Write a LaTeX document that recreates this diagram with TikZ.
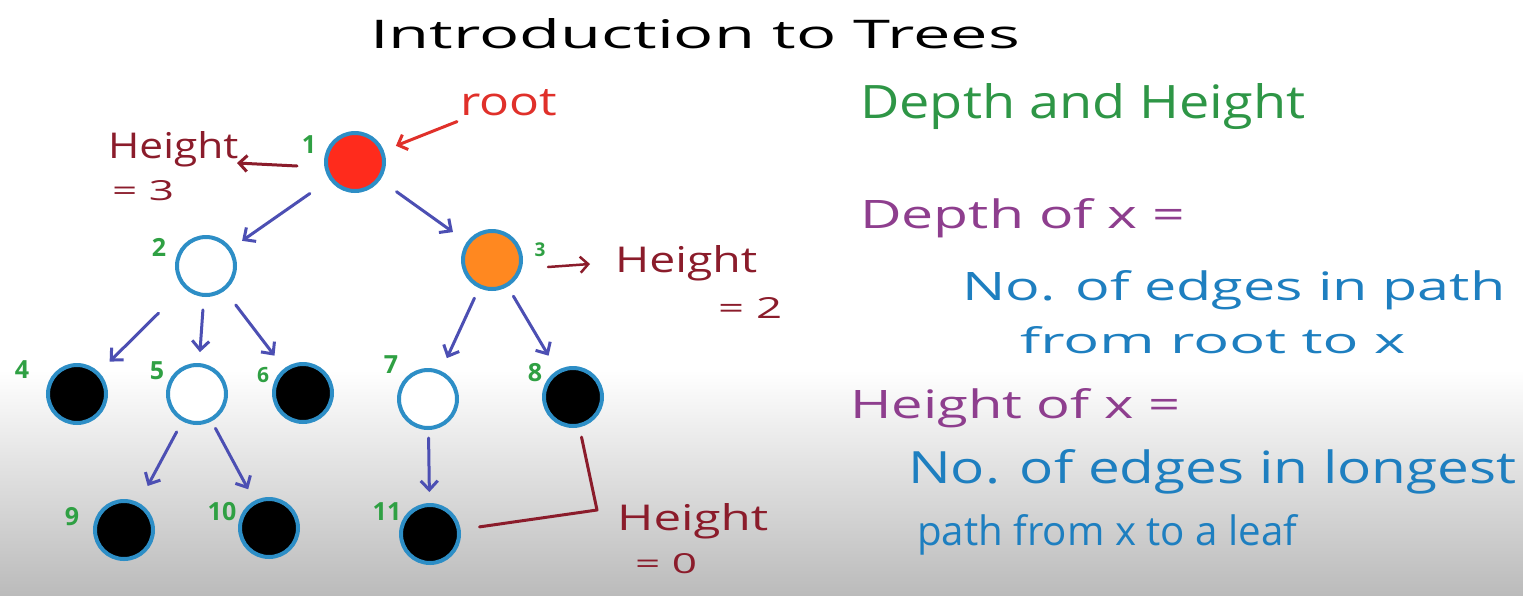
\documentclass[tikz,border=0pt]{standalone}
\usepackage{fontspec}
\setmainfont{Open Sans}
\usepackage{graphicx}
\usetikzlibrary{arrows.meta}
\definecolor{nodeblue}{RGB}{45,142,198}
\definecolor{edgeblue}{RGB}{76,79,179}
\definecolor{rootred}{RGB}{255,43,28}
\definecolor{orangefill}{RGB}{255,136,32}
\definecolor{numgreen}{RGB}{47,160,67}
\definecolor{headgreen}{RGB}{46,150,70}
\definecolor{defpurple}{RGB}{142,62,142}
\definecolor{textblue}{RGB}{30,127,192}
\definecolor{darkred}{RGB}{139,28,43}
\definecolor{labelred}{RGB}{224,48,42}
\definecolor{bggray}{RGB}{187,187,187}
\newcommand\hw[3]{\resizebox{#1pt}{#2pt}{#3}}
\tikzset{
  tnode/.style={circle, draw=nodeblue, line width=4pt, minimum size=58pt, inner sep=0pt},
  txt/.style={anchor=base west, inner sep=0pt},
  num/.style={text=numgreen, inner sep=0pt, font=\fontsize{25}{25}\selectfont\bfseries},
  edge/.style={draw=edgeblue, line width=3pt, line cap=round,
    -{Straight Barb[length=9pt,width=17pt]}},
  redarrow/.style={draw=darkred, line width=3pt, line cap=round,
    -{Straight Barb[length=8pt,width=16pt]}},
}
\begin{document}
\begin{tikzpicture}[x=1pt,y=-1pt]
\useasboundingbox (0,0) rectangle (1523,595);
\fill[white] (0,0) rectangle (1523,372);
\shade[top color=white, bottom color=bggray] (0,370) rectangle (1523,595);

% title
\node[txt, text=black] (title) at (370,48) {\hw{650}{30}{Introduction to Trees}};

% tree nodes
\node[tnode, fill=rootred]    (n1)  at (355,162) {};
\node[tnode, fill=white]      (n2)  at (206,266) {};
\node[tnode, fill=orangefill] (n3)  at (492,260) {};
\node[tnode, fill=black]      (n4)  at (77,394) {};
\node[tnode, fill=white]      (n5)  at (197,394) {};
\node[tnode, fill=black]      (n6)  at (303,393) {};
\node[tnode, fill=white]      (n7)  at (428,399) {};
\node[tnode, fill=black]      (n8)  at (573,397) {};
\node[tnode, fill=black]      (n9)  at (124,530) {};
\node[tnode, fill=black]      (n10) at (269,528) {};
\node[tnode, fill=black]      (n11) at (430,534) {};

% number labels
\node[num] (l1)  at (309,145) {1};
\node[num] (l2)  at (159,247) {2};
\node[num, font=\fontsize{19}{19}\selectfont\bfseries] (l3)  at (540,250) {3};
\node[num] (l4)  at (22,370) {4};
\node[num] (l5)  at (157,371) {5};
\node[num, font=\fontsize{21}{21}\selectfont\bfseries] (l6)  at (263,375) {6};
\node[num] (l7)  at (391,365) {7};
\node[num] (l8)  at (535,373) {8};
\node[num] (l9)  at (72,517) {9};
\node[num] (l10) at (222,512) {10};
\node[num] (l11) at (387,512) {11};

% edges
\draw[edge, shorten <=24pt, shorten >=13pt] (n1) -- (n2);
\draw[edge, shorten <=20pt, shorten >=17pt] (n1) -- (n3);
\draw[edge, shorten <=36pt, shorten >=15pt] (n2) -- (n4);
\draw[edge, shorten <=13pt, shorten >=11pt] (n2) -- (n5);
\draw[edge, shorten <=18pt, shorten >=16pt] (n2) -- (n6);
\draw[edge, shorten <=12pt, shorten >=19pt] (n5) -- (n9);
\draw[edge, shorten <=8pt,  shorten >=13pt] (n5) -- (n10);
\draw[edge, shorten <=11pt, shorten >=14pt] (n3) -- (n7);
\draw[edge, shorten <=11pt, shorten >=17pt] (n3) -- (n8);
\draw[edge, shorten <=8pt,  shorten >=11pt] (n7) -- (n11);

% root label
\node[txt, text=labelred] (root) at (460,115) {\hw{97}{26}{root}};
\draw[redarrow, draw=labelred, shorten >=13pt] ([xshift=-3pt,yshift=-6pt]root.south west) -- (n1);

% height of root
\node[txt, text=darkred] (h3) at (108,158) {\hw{130}{27}{Height}};
\node[txt, text=darkred] (h3v) at (112,200) {\hw{62}{20}{= 3}};
\coordinate (a1s) at (297,166);
\coordinate (a1e) at (237,163);
\draw[redarrow] (a1s) -- (a1e);

% height of 3
\node[txt, text=darkred] (h2) at (615,272) {\hw{142}{27}{Height}};
\node[txt, text=darkred] (h2v) at (718,318) {\hw{64}{21}{= 2}};
\coordinate (a3s) at (548,267);
\coordinate (a3e) at (590,264);
\draw[redarrow, line width=2.5pt] (a3s) -- (a3e);

% height of leaves
\coordinate (corner) at (597,510);
\draw[draw=darkred, line width=3pt, line cap=round, line join=round,
  shorten <=19pt, shorten >=10pt] (n11) -- (corner) -- (n8);
\node[txt, text=darkred] (h0) at (617,530) {\hw{151}{27}{Height}};
\node[txt, text=darkred] (h0v) at (635,573) {\hw{62}{20}{= 0}};

% right side text
\node[txt, text=headgreen] (head) at (860,118) {\hw{445}{35}{Depth and Height}};
\node[txt, text=defpurple] (dep) at (860,228) {\hw{325}{30}{Depth of x =}};
\node[txt, text=textblue] (dep1) at (962,300) {\hw{543}{30}{No. of edges in path}};
\node[txt, text=textblue] (dep2) at (1020,353) {\hw{385}{27}{from root to x}};
\node[txt, text=defpurple] (hei) at (850,418) {\hw{330}{30}{Height of x =}};
\node[txt, text=textblue] (hei1) at (908,483) {\hw{608}{34}{No. of edges in longest}};
\node[txt, text=textblue] (hei2) at (917,545) {\hw{380}{31}{path from x to a leaf}};
\end{tikzpicture}
\end{document}
